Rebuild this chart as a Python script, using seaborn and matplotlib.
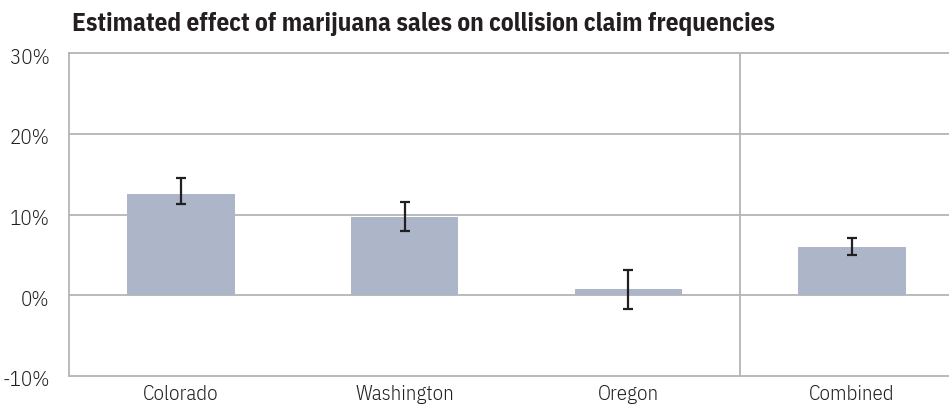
import matplotlib
matplotlib.use("Agg")
import matplotlib.pyplot as plt
import matplotlib.transforms as mtransforms
import seaborn as sns
import pandas as pd
from matplotlib import font_manager as fm

states = ["Colorado", "Washington", "Oregon", "Combined"]
effect = [12.5, 9.75, 0.7, 6.0]
ci_low = [11.3, 8.0, -1.7, 5.0]
ci_high = [14.5, 11.6, 3.1, 7.1]
y_ticks = [-10, 0, 10, 20, 30]
y_tick_labels = ["-10%", "0%", "10%", "20%", "30%"]
title = "Estimated effect of marijuana sales on collision claim frequencies"

names = {f.name for f in fm.fontManager.ttflist}
fam = "IBM Plex Sans Condensed" if "IBM Plex Sans Condensed" in names else "Liberation Sans"

sns.set_theme(style="white")
plt.rcParams["font.family"] = [fam, "DejaVu Sans"]

df = pd.DataFrame({"state": states, "effect": effect})

fig = plt.figure(figsize=(9.49, 4.09), dpi=100)
W, H = 949, 409
left, right, top, bottom = 69, 964, 53.3, 375.7
ax = fig.add_axes([left / W, 1 - bottom / H, (right - left) / W, (bottom - top) / H])

sns.barplot(data=df, x="state", y="effect", color="#ADB5C8", saturation=1,
            width=0.48, errorbar=None, linewidth=0, ax=ax)

yerr = [[e - l for e, l in zip(effect, ci_low)], [h - e for e, h in zip(effect, ci_high)]]
ax.errorbar(range(len(states)), effect, yerr=yerr, fmt="none", ecolor="#231F20",
            elinewidth=1.6, capsize=3.5, capthick=1.6, zorder=5)

ax.set_ylim(-10, 30)
ax.set_xlim(-0.5, 3.5)
ax.set_yticks(y_ticks)
ax.set_yticklabels(y_tick_labels)
ax.set_xlabel("")
ax.set_ylabel("")

grid_c = "#B4B4B4"
for v in [0, 10, 20]:
    ax.axhline(v, color=grid_c, lw=1.3, zorder=0.5)
ax.axvline(2.5, color=grid_c, lw=1.3, zorder=0.5)

for s in ["left", "bottom", "top"]:
    ax.spines[s].set_color(grid_c)
    ax.spines[s].set_linewidth(1.3)
ax.spines["right"].set_visible(False)

ax.tick_params(axis="both", length=0, labelsize=15, colors="#231F20")
ax.tick_params(axis="y", pad=14)
ax.tick_params(axis="x", pad=7)
shift = mtransforms.ScaledTranslation(0, -3 / 100, fig.dpi_scale_trans)
for lab in ax.get_yticklabels():
    lab.set_fontweight(300)
    lab.set_transform(lab.get_transform() + shift)
for lab in ax.get_xticklabels():
    lab.set_fontweight(300)

fig.text(72 / W, 1 - 31 / H, title, fontsize=18.2, fontweight="bold",
         color="#231F20", ha="left", va="baseline")

fig.savefig("out.png", dpi=100)
